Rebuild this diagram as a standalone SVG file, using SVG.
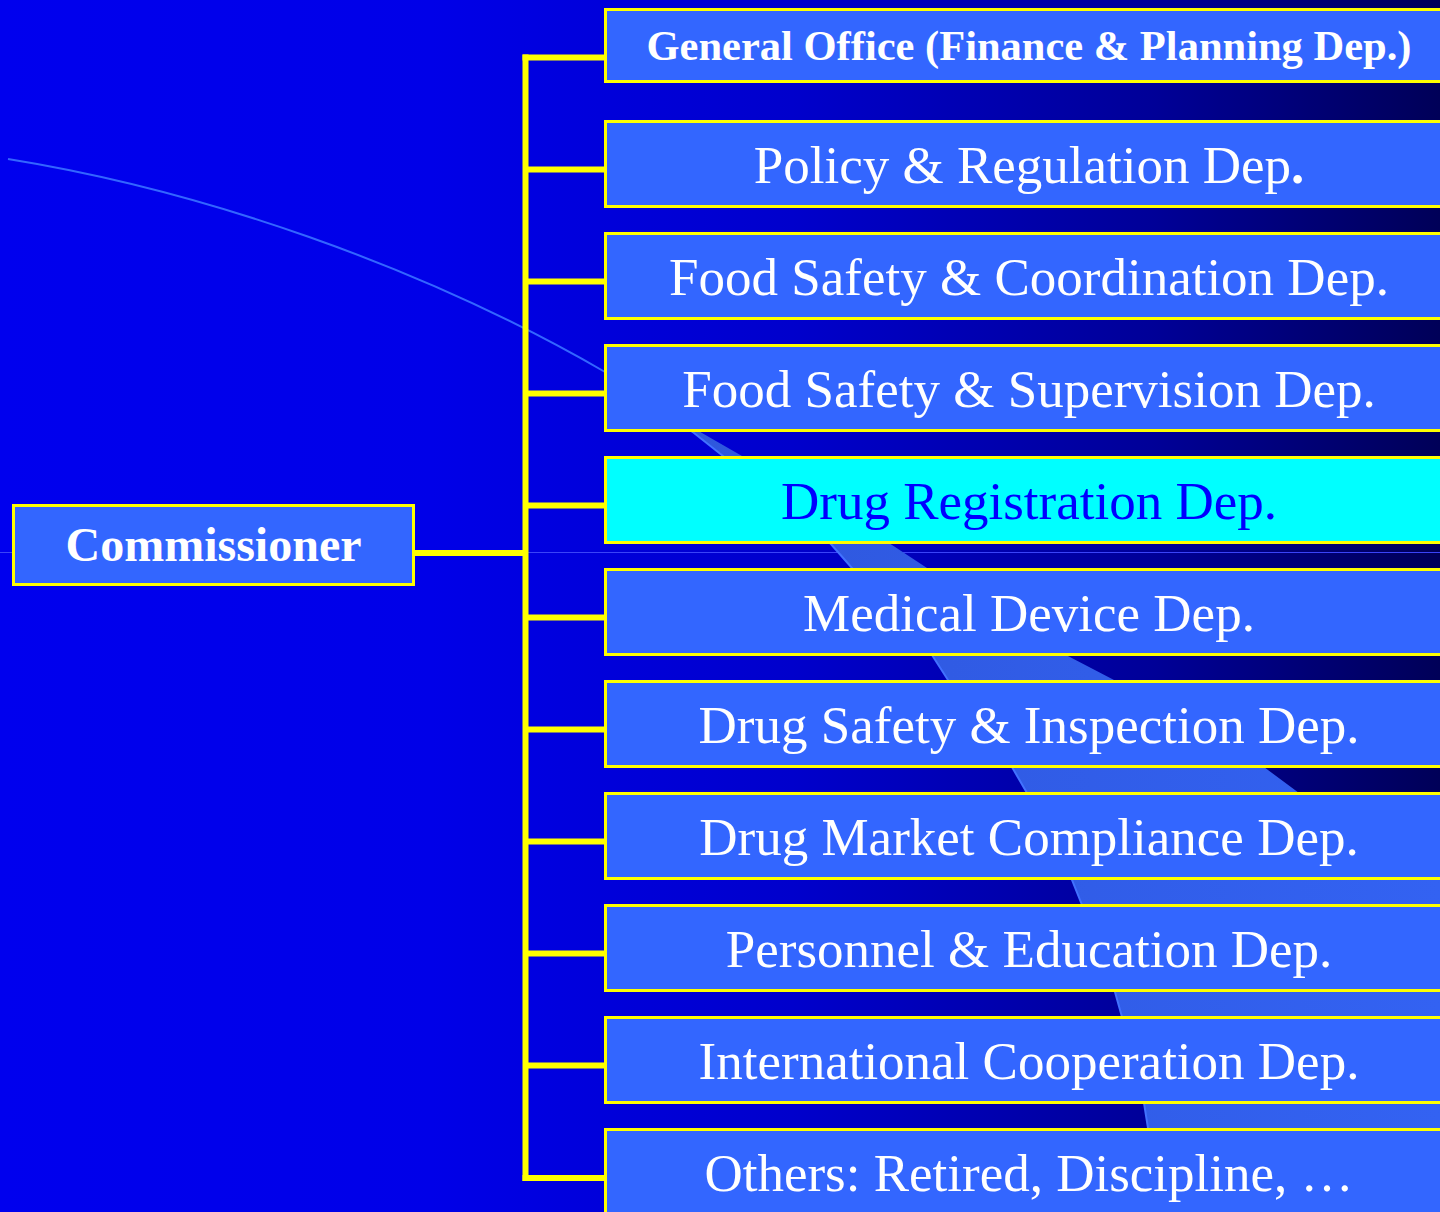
<svg xmlns="http://www.w3.org/2000/svg" width="1440" height="1212" viewBox="0 0 1440 1212">
<defs>
<linearGradient id="bg" x1="0" y1="0" x2="1440" y2="0" gradientUnits="userSpaceOnUse">
<stop offset="0" stop-color="#0000EE"/>
<stop offset="0.3" stop-color="#0000E8"/>
<stop offset="0.55" stop-color="#0000CC"/>
<stop offset="0.8" stop-color="#000098"/>
<stop offset="1" stop-color="#000058"/>
</linearGradient>
<linearGradient id="band" x1="600" y1="0" x2="1440" y2="0" gradientUnits="userSpaceOnUse">
<stop offset="0" stop-color="#2E56DA"/>
<stop offset="1" stop-color="#3362F2"/>
</linearGradient>
<style>
.box{fill:#3366FF;stroke:#FFFF00;stroke-width:3}
.hl{fill:#00FFFF;stroke:#FFFF00;stroke-width:3}
.lbl{font-family:"Liberation Serif","Times New Roman",serif;font-size:53px;fill:#FFFFFF;text-anchor:middle}
.bold{font-weight:bold}
.conn{stroke:#FFFF00;stroke-width:6;fill:none}
</style>
</defs>
<rect x="0" y="0" width="1440" height="1212" fill="url(#bg)"/>
<g id="decoration">
<line x1="0" y1="552.5" x2="1440" y2="552.5" stroke="#3A44F8" stroke-width="1"/>
<path d="M8,159 C200,190 420,265 605,372" fill="none" stroke="#3366FF" stroke-width="2"/>
<path d="M605,372 L702,433 L742,456 L889,543 L927,568 L1066,655 L1114,680 L1264,767 L1299,793 L1440,878 L1440,1212 L1155,1212 L1148,1128 L1144,1103 L1122,1017 L1115,992 L1082,905 L1072,880 L1027,793 L1012,767 L948,680 L932,655 L852,568 L830,543 L723,456 L694,433 Z" fill="url(#band)"/>
<path d="M605,372 L694,433 L723,456 L830,543 L852,568 L932,655 L948,680 L1012,767 L1027,793 L1072,880 L1082,905 L1115,992 L1122,1017 L1144,1103 L1148,1128 L1155,1212" fill="none" stroke="#4272FF" stroke-width="2"/>
</g>
<g id="connectors">
<line class="conn" x1="525.5" y1="54.5" x2="525.5" y2="1181"/>
<line class="conn" x1="414" y1="553" x2="525.5" y2="553"/>
<line class="conn" x1="522.5" y1="57.5" x2="605" y2="57.5"/>
<line class="conn" x1="525.5" y1="169.5" x2="605" y2="169.5"/>
<line class="conn" x1="525.5" y1="281.5" x2="605" y2="281.5"/>
<line class="conn" x1="525.5" y1="393.5" x2="605" y2="393.5"/>
<line class="conn" x1="525.5" y1="505.5" x2="605" y2="505.5"/>
<line class="conn" x1="525.5" y1="617.5" x2="605" y2="617.5"/>
<line class="conn" x1="525.5" y1="729.5" x2="605" y2="729.5"/>
<line class="conn" x1="525.5" y1="841.5" x2="605" y2="841.5"/>
<line class="conn" x1="525.5" y1="953.5" x2="605" y2="953.5"/>
<line class="conn" x1="525.5" y1="1065.5" x2="605" y2="1065.5"/>
<line class="conn" x1="522.5" y1="1178" x2="605" y2="1178"/>
</g>
<g id="commissioner">
<rect class="box" x="13.5" y="505.5" width="400" height="79"/>
<text class="lbl bold" x="213.5" y="561" style="font-size:48px">Commissioner</text>
</g>
<g id="general-office">
<rect class="box" x="605.5" y="9.5" width="900" height="72"/>
<text class="lbl bold" x="1029" y="60" style="font-size:42.5px">General Office (Finance &amp; Planning Dep.)</text>
</g>
<g id="policy-regulation">
<rect class="box" x="605.5" y="121.5" width="900" height="85"/>
<text class="lbl" x="1029" y="183">Policy &amp; Regulation Dep<tspan class="bold">.</tspan></text>
</g>
<g id="food-safety-coordination">
<rect class="box" x="605.5" y="233.5" width="900" height="85"/>
<text class="lbl" x="1029" y="295">Food Safety &amp; Coordination Dep.</text>
</g>
<g id="food-safety-supervision">
<rect class="box" x="605.5" y="345.5" width="900" height="85"/>
<text class="lbl" x="1029" y="407">Food Safety &amp; Supervision Dep.</text>
</g>
<g id="drug-registration">
<rect class="hl" x="605.5" y="457.5" width="900" height="85"/>
<text class="lbl" x="1029" y="519" style="fill:#0000FF">Drug Registration Dep.</text>
</g>
<g id="medical-device">
<rect class="box" x="605.5" y="569.5" width="900" height="85"/>
<text class="lbl" x="1029" y="631">Medical Device Dep.</text>
</g>
<g id="drug-safety-inspection">
<rect class="box" x="605.5" y="681.5" width="900" height="85"/>
<text class="lbl" x="1029" y="743">Drug Safety &amp; Inspection Dep.</text>
</g>
<g id="drug-market-compliance">
<rect class="box" x="605.5" y="793.5" width="900" height="85"/>
<text class="lbl" x="1029" y="855">Drug Market Compliance Dep.</text>
</g>
<g id="personnel-education">
<rect class="box" x="605.5" y="905.5" width="900" height="85"/>
<text class="lbl" x="1029" y="967">Personnel &amp; Education Dep.</text>
</g>
<g id="international-cooperation">
<rect class="box" x="605.5" y="1017.5" width="900" height="85"/>
<text class="lbl" x="1029" y="1079">International Cooperation Dep.</text>
</g>
<g id="others">
<rect class="box" x="605.5" y="1129.5" width="900" height="85"/>
<text class="lbl" x="1029" y="1191">Others: Retired, Discipline, …</text>
</g>
</svg>
